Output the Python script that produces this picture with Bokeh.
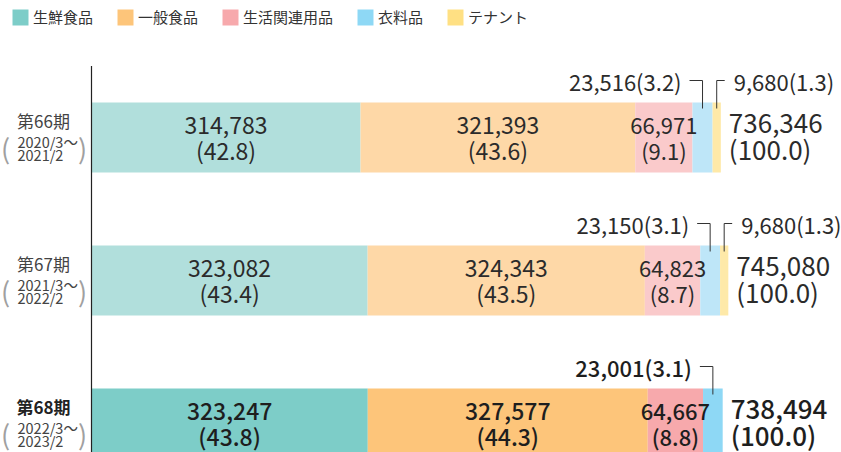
from bokeh.plotting import figure
from bokeh.models import ColumnDataSource, Range1d, Legend, LegendItem
from bokeh.core.properties import value
from bokeh.embed import file_html
from bokeh.resources import INLINE

# ---------------- data ----------------
periods = ["第66期", "第67期", "第68期"]
period_from = ["2020/3〜", "2021/3〜", "2022/3〜"]
period_to = ["2021/2", "2022/2", "2023/2"]
series_names = ["生鮮食品", "一般食品", "生活関連用品", "衣料品", "テナント"]
fresh = [314783, 323082, 323247]
general = [321393, 324343, 327577]
household = [66971, 64823, 64667]
apparel = [23516, 23150, 23001]
tenant = [9680, 9680, 0]
fresh_pct = [42.8, 43.4, 43.8]
general_pct = [43.6, 43.5, 44.3]
household_pct = [9.1, 8.7, 8.8]
apparel_pct = [3.2, 3.1, 3.1]
tenant_pct = [1.3, 1.3, 0.0]
totals = [736346, 745080, 738494]
totals_pct = [100.0, 100.0, 100.0]

# ---------------- style ----------------
FONT = "Noto Sans CJK JP"
FONT_M = "Noto Sans CJK JP Medium"
row_font = [FONT, FONT, FONT_M]
row_col = ["#2b2b2b", "#2b2b2b", "#1e1e1e"]
pale = ["#b1dfdc", "#fed8a7", "#facacb", "#bee6f8", "#fee9a8"]
strong = ["#7dcdc8", "#fdc57a", "#f7a9ac", "#8ed8f5", "#ffe083"]
W, H = 841, 452
XU = 1170.0          # data units per pixel along x
ROW = 143.0          # pixels per row
BAR_H = 70.0 / ROW
ypos = [2, 1, 0]

p = figure(width=W, height=H, output_backend="svg", toolbar_location=None,
           x_range=Range1d(-91 * XU, (W - 91) * XU),
           y_range=Range1d(-29 / ROW, 2 + 137 / ROW),
           x_axis_location=None, y_axis_location=None, min_border=0)
p.outline_line_color = None
p.grid.visible = False
p.background_fill_color = "white"

series = [fresh, general, household, apparel, tenant]
lefts = [[0, 0, 0]]
for s in series[:-1]:
    lefts.append([a + b for a, b in zip(lefts[-1], s)])

renderers = []
for k, s in enumerate(series):
    cols = [pale[k], pale[k], strong[k]]
    src = ColumnDataSource(dict(y=ypos, left=lefts[k],
                                right=[a + b for a, b in zip(lefts[k], s)],
                                color=cols))
    r = p.hbar(y="y", left="left", right="right", height=BAR_H,
               fill_color="color", line_color=None, source=src)
    renderers.append(r)

# axis line
p.segment(x0=[0], y0=[-1], x1=[0], y1=[2.5], line_color="#222", line_width=1.2)


def row_text(i, **kw):
    p.text(text_font=value(row_font[i]), text_color=row_col[i],
           text_baseline="middle", **kw)


# inner labels (fresh, general, household)
pcts = [fresh_pct, general_pct, household_pct]
for k in range(3):
    for i in range(3):
        cx = lefts[k][i] + series[k][i] / 2
        common = dict(x=[cx], y=[ypos[i]], text_align="center",
                      text_font_size="23px" if k < 2 else "22px")
        row_text(i, text=[f"{series[k][i]:,}"], y_offset=-12, **common)
        row_text(i, text=[f"({pcts[k][i]:.1f})"], y_offset=12, **common)

# totals
for i in range(3):
    common = dict(x=[totals[i]], y=[ypos[i]], text_align="left", x_offset=8,
                  text_font_size="26px")
    row_text(i, text=[f"{totals[i]:,}"], y_offset=-14, **common)
    row_text(i, text=[f"({totals_pct[i]:.1f})"], y_offset=11, **common)

# callouts
lab_dy = 22 / ROW
in_dy = 6 / ROW
xs, ys = [], []
for i in range(3):
    top = ypos[i] + BAR_H / 2
    c = lefts[3][i] + apparel[i] / 2
    xs.append([c - 13 * XU, c, c]); ys.append([top + lab_dy, top + lab_dy, top - in_dy])
    row_text(i, x=[c], y=[top], text=[f"{apparel[i]:,}({apparel_pct[i]:.1f})"],
             x_offset=-21, y_offset=-22, text_align="right", text_font_size="22px")
    if tenant[i] > 0:
        c = lefts[4][i] + tenant[i] / 2
        xs.append([c + 8 * XU, c, c]); ys.append([top + lab_dy, top + lab_dy, top - in_dy])
        row_text(i, x=[c], y=[top], text=[f"{tenant[i]:,}({tenant_pct[i]:.1f})"],
                 x_offset=17, y_offset=-22, text_align="left", text_font_size="22px")
p.multi_line(xs=xs, ys=ys, line_color="#333", line_width=1)

# period labels on the left
src = ColumnDataSource(dict(x=[0, 0, 0], y=ypos, name=periods,
                            a=period_from, b=period_to,
                            style=["normal", "normal", "bold"],
                            color=["#444444", "#444444", "#222222"]))
p.text(x="x", y="y", text="name", source=src, x_offset=-48, y_offset=-17,
       text_align="center", text_baseline="middle", text_font=value(FONT),
       text_font_size="17px", text_color="color", text_font_style="style")
for col, dy in (("a", 4), ("b", 17)):
    p.text(x="x", y="y", text=col, source=src, x_offset=-74, y_offset=dy,
           text_align="left", text_baseline="middle", text_font=value(FONT),
           text_font_size="14.5px", text_color="#444444")
p.text(x="x", y="y", text=value("("), source=src, x_offset=-86, y_offset=10,
       text_align="center", text_baseline="middle", text_font=value(FONT),
       text_font_size="27px", text_color="#a0a0a0")
p.text(x="x", y="y", text=value(")"), source=src, x_offset=-9, y_offset=10,
       text_align="center", text_baseline="middle", text_font=value(FONT),
       text_font_size="27px", text_color="#a0a0a0")

# legend
legend = Legend(items=[LegendItem(label=n, renderers=[r], index=2)
                       for n, r in zip(series_names, renderers)],
                orientation="horizontal", location=(10, H - 7 - 20),
                glyph_width=20, glyph_height=20, label_standoff=3, spacing=22,
                padding=0, margin=0, border_line_color=None,
                background_fill_alpha=0, label_text_font=FONT,
                label_text_font_size="15px", label_text_color="#333333",
                label_height=20)
p.add_layout(legend)

open("out.html", "w").write(file_html(p, INLINE))
